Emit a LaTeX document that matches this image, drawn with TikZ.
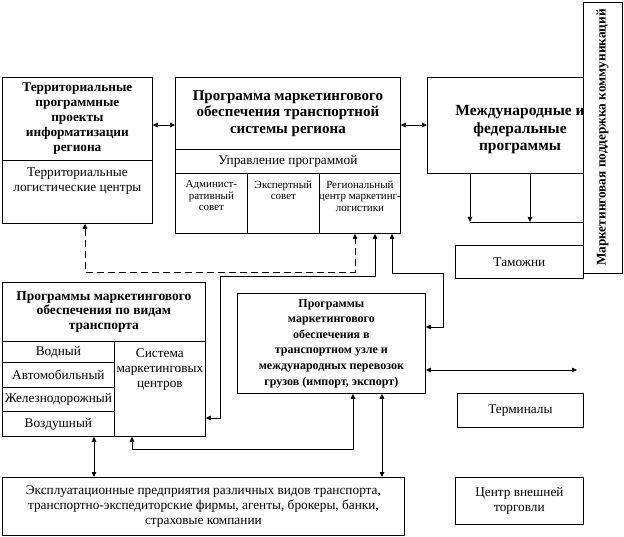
\documentclass[tikz,border=0pt]{standalone}
\usepackage{fontspec}
\setmainfont{Liberation Serif}
\usetikzlibrary{arrows.meta}
\begin{document}
\begin{tikzpicture}[x=1pt,y=-1pt,line width=0.8pt,
  cell/.style={draw,rectangle,inner sep=0pt,anchor=north west,align=center},
  both/.style={{Triangle[length=5pt,width=4.5pt]}-{Triangle[length=5pt,width=4.5pt]}},
  tip/.style={-{Triangle[length=5pt,width=4.5pt]}},
  hd/.style={font=\fontsize{13.3}{15}\selectfont\bfseries,align=center},
  tx/.style={font=\fontsize{13.3}{15}\selectfont,align=center},
  sm/.style={font=\fontsize{11}{11.5}\selectfont,align=center}]
  \useasboundingbox (0,0) rectangle (624,537);
  % territorial block
  \node[cell,hd,minimum width=150pt,minimum height=83pt] (terrH) at (2,77)
    {Территориальные\\программные\\проекты\\информатизации\\региона};
  \node[cell,minimum width=150pt,minimum height=63pt] (terrL) at (2,160) {};
  \node[tx,anchor=north] (terrLt) at ([yshift=-4pt]terrL.north) {Территориальные\\логистические центры};
  % regional program
  \node[cell,minimum width=225pt,minimum height=72pt,font=\fontsize{15}{16.5}\selectfont\bfseries] (progH) at (175,77)
    {Программа маркетингового\\обеспечения транспортной\\системы региона};
  \node[cell,tx,minimum width=225pt,minimum height=24pt] (progU) at (175,149) {Управление программой};
  \node[cell,minimum width=72pt,minimum height=60pt] (progA) at (175,173) {};
  \node[cell,minimum width=72pt,minimum height=60pt] (progE) at (247,173) {};
  \node[cell,minimum width=81pt,minimum height=60pt] (progR) at (319,173) {};
  \node[sm,anchor=north] (progAt) at ([yshift=-4pt]progA.north) {Админист-\\ративный\\совет};
  \node[sm,anchor=north] (progEt) at ([yshift=-4pt]progE.north) {Экспертный\\совет};
  \node[sm,anchor=north] (progRt) at ([yshift=-4pt]progR.north) {Региональный\\центр маркетинг-\\логистики};
  % international programs
  \node[cell,minimum width=156pt,minimum height=96pt] (intl) at (427,77) {};
  \node[hd,font=\fontsize{15.5}{17.5}\selectfont\bfseries] (intlT) at (520,130) {Международные и\\федеральные\\программы};
  \node[draw,fill=white,rotate=90,inner sep=0pt,minimum width=271pt,minimum height=39pt,hd] (vbox)
    at (602.5,137.5) {Маркетинговая поддержка коммуникаций};
  \node[cell,tx,minimum width=128pt,minimum height=33pt] (tam) at (455,245) {Таможни};
  % transport kinds
  \node[cell,hd,font=\fontsize{13.5}{14.5}\selectfont\bfseries,minimum width=203pt,minimum height=59pt] (trH) at (2,282)
    {Программы маркетингового\\обеспечения по видам\\транспорта};
  \node[cell,tx,minimum width=112pt,minimum height=21pt] (trV) at (2,341) {Водный};
  \node[cell,tx,minimum width=112pt,minimum height=25pt] (trA) at (2,362) {Автомобильный};
  \node[cell,tx,minimum width=112pt,minimum height=24pt] (trZ) at (2,387) {Железнодорожный};
  \node[cell,tx,minimum width=112pt,minimum height=25pt] (trB) at (2,411) {Воздушный};
  \node[cell,minimum width=91pt,minimum height=95pt] (trS) at (114,341) {};
  \node[tx,anchor=north] (trSt) at ([yshift=-4pt]trS.north) {Система\\маркетинговых\\центров};
  % transport node
  \node[cell,font=\fontsize{12}{15.6}\selectfont\bfseries,minimum width=188pt,minimum height=100pt] (uzel) at (237,293)
    {Программы\\маркетингового\\обеспечения в\\транспортном узле и\\международных перевозок\\грузов (импорт, экспорт)};
  \node[cell,tx,minimum width=126pt,minimum height=34pt] (term) at (457,393) {Терминалы};
  \node[cell,tx,minimum width=402pt,minimum height=58pt] (expl) at (2,477)
    {Эксплуатационные предприятия различных видов транспорта,\\транспортно-экспедиторские фирмы, агенты, брокеры, банки,\\страховые компании};
  \node[cell,tx,minimum width=128pt,minimum height=47pt] (ctr) at (455,477) {Центр внешней\\торговли};
  % connectors
  \coordinate (row) at (0,125);
  \draw[both] (terrH.east |- row) -- (progH.west |- row);
  \draw[both] (progH.east |- row) -- (intl.west |- row);
  \coordinate (bus1) at (470,222);
  \coordinate (bus2) at (530,222);
  \draw[tip] (intl.south -| bus1) -- (bus1);
  \draw[tip] (intl.south -| bus2) -- (bus2);
  \draw (bus1) -- (bus1 -| vbox.north);
  \coordinate (d1) at (85,272);
  \coordinate (d2) at (355,272);
  \draw[both,dashed,dash pattern=on 7pt off 4pt] (terrL.south -| d1) -- (d1) -- (d2) -- (progR.south -| d2);
  \coordinate (s1) at (375,276);
  \coordinate (s2) at (220,276);
  \coordinate (s3) at (220,418);
  \draw[both] (progR.south -| s1) -- (s1) -- (s2) -- (s3) -- (trS.east |- s3);
  \coordinate (u1) at (392,273);
  \coordinate (u2) at (443,273);
  \coordinate (u3) at (443,327);
  \draw[both] (progR.south -| u1) -- (u1) -- (u2) -- (u3) -- (uzel.east |- u3);
  \coordinate (far) at (577,370);
  \draw[both] (uzel.east |- far) -- (far);
  \coordinate (b1) at (94,0);
  \draw[both] (trB.south -| b1) -- (expl.north -| b1);
  \coordinate (b2) at (132,449);
  \coordinate (b3) at (353,449);
  \draw[both] (trS.south -| b2) -- (b2) -- (b3) -- (uzel.south -| b3);
  \coordinate (b4) at (382,0);
  \draw[both] (uzel.south -| b4) -- (expl.north -| b4);
\end{tikzpicture}
\end{document}
